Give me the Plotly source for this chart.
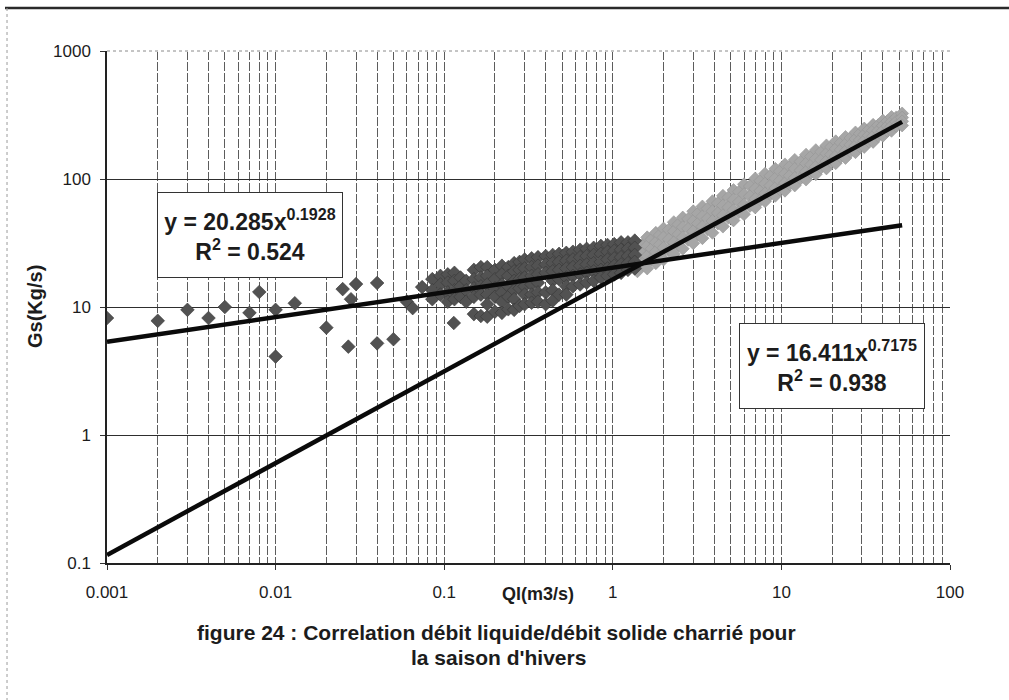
import plotly.graph_objects as go

# Scattered low-flow measurements, Ql (m3/s) and Gs (kg/s)
q_sparse = [0.001, 0.002, 0.003, 0.004, 0.005, 0.007, 0.008, 0.01, 0.01, 0.013,
            0.02, 0.025, 0.027, 0.028, 0.03, 0.04, 0.04, 0.05, 0.06, 0.065,
            0.074, 0.114]
gs_sparse = [8.2, 7.8, 9.5, 8.2, 10.0, 9.0, 13.1, 9.5, 4.1, 10.7,
             6.9, 13.8, 4.9, 11.5, 15.1, 15.4, 5.2, 5.6, 11.0, 9.8,
             14.3, 7.5]

# Dense cloud of winter measurements (Ql column -> Gs readings)
cloud_q = [0.085, 0.095, 0.105, 0.115, 0.125, 0.135, 0.15, 0.165, 0.18, 0.2,
           0.22, 0.24, 0.26, 0.28, 0.3, 0.33, 0.36, 0.4, 0.44, 0.48,
           0.53, 0.58, 0.64, 0.7, 0.77, 0.85, 0.93, 1.02, 1.12, 1.23, 1.35]
cloud_gs = [
    [16.5, 13.5, 11.5],
    [17.5, 15, 12.5],
    [18, 15.5, 13, 11],
    [18.5, 16, 13.5, 11.5],
    [17, 14.5, 12],
    [16, 13.5, 11],
    [19.5, 16.5, 14, 12, 8.8],
    [20.5, 17, 14.5, 12.5, 8.5],
    [20.5, 17.5, 15, 12.5, 10.5, 8.4],
    [19.5, 16.5, 14, 12, 9.2],
    [21, 18, 15, 13, 11, 9.0],
    [20.5, 17.5, 14.5, 12, 9.6],
    [22, 19, 16, 13.5, 11.5, 9.5],
    [22.5, 19.5, 16.5, 14, 10.2],
    [23.5, 20, 17, 14.5, 12.5, 10.5],
    [24, 20.5, 17.5, 15, 12.5, 10.8],
    [24.5, 21, 18, 15.5, 13, 11],
    [25, 21.5, 18.5, 13, 10.5],
    [25.5, 22, 19, 16, 13.5, 11.2],
    [26, 22.5, 19.5, 16.5, 12.5],
    [26.5, 23, 20, 17, 14.5, 12.5],
    [27, 23.5, 20.5, 17.5, 14.5],
    [28, 24.5, 21, 18, 15],
    [28.5, 25, 21.5, 18.5, 15.5],
    [29, 25.5, 22, 19, 16],
    [30, 26, 22.5, 19.5, 17],
    [30.5, 27, 23.5, 20, 17.5],
    [31, 27.5, 24, 21, 18],
    [32, 28, 24.5, 21.5, 18.5],
    [32, 28.5, 25, 22, 19.5],
    [33, 29, 25.5, 22.5, 20],
]

# High-flow measurements (lighter series)
flood_q = [1.4, 1.5, 1.6, 1.7, 1.8, 1.9, 2.0, 2.15, 2.3, 2.45,
           2.6, 2.8, 3.0, 3.2, 3.4, 3.65, 3.9, 4.2, 4.5, 4.85,
           5.2, 5.6, 6.0, 6.5, 7.0, 7.5, 8.0, 8.6, 9.2, 9.8,
           10.5, 11.2, 12, 13, 14, 15, 16, 17.2, 18.5, 19.7,
           21, 22.5, 24, 25.7, 27.5, 29.2, 31, 33, 35, 37.5,
           40, 42.5, 45, 48, 52]
flood_gs = [
    [31, 27, 23, 19],
    [30.8, 26.2, 21.8],
    [35, 30, 25, 20],
    [33.8, 28.5, 23.5],
    [38, 32, 27, 22],
    [36.5, 30.8, 25.4],
    [41, 35, 29, 23.5],
    [40.2, 33.8, 27.6],
    [46, 39, 32, 26],
    [44.2, 37, 30.4],
    [50, 42, 35, 28.5],
    [48.8, 40.8, 33.5],
    [56, 47, 39, 31.5],
    [53.8, 44.9, 36.9],
    [61, 51, 42.5, 34.5],
    [58.8, 49.1, 40.5],
    [67, 56, 47, 38],
    [64.8, 54.2, 44.9],
    [74, 62, 52, 42.5],
    [71.8, 60, 49.8],
    [82, 69, 57, 47.5],
    [79.5, 66.2, 55.1],
    [91, 76, 63, 53],
    [88, 73.2, 61.5],
    [101, 84, 70, 60],
    [96.8, 80.8, 68.5],
    [110, 92, 77, 67],
    [105.8, 88.8, 75.8],
    [120, 101, 85, 74],
    [115, 97, 83],
    [130, 110, 93, 81],
    [125, 106, 91],
    [141, 120, 102, 89],
    [137, 117, 101],
    [155, 132, 114, 99],
    [150, 129, 112],
    [168, 144, 125, 109],
    [163, 141, 123],
    [183, 158, 138, 121],
    [178, 155, 136],
    [197, 172, 151, 133],
    [192, 169, 149],
    [213, 187, 165, 146],
    [209, 185, 164],
    [231, 205, 182, 162],
    [226, 202, 180],
    [248, 222, 199, 178],
    [243, 219, 197],
    [265, 239, 216, 195],
    [263, 238, 217],
    [286, 261, 238, 218],
    [283, 259, 238],
    [305, 280, 258, 238],
    [303, 280, 260],
    [325, 302, 282, 262],
]

# Power-law fits  Gs = a * Ql^b
fit_low = {"a": 20.285, "b": 0.1928, "r2": 0.524}
fit_all = {"a": 16.411, "b": 0.7175, "r2": 0.938}
fit_q_range = [0.001, 52]

x_tickvals = [0.001, 0.01, 0.1, 1, 10, 100]
x_ticktext = ["0.001", "0.01", "0.1", "1", "10", "100"]
y_tickvals = [0.1, 1, 10, 100, 1000]
y_ticktext = ["0.1", "1", "10", "100", "1000"]

FONT = "Liberation Sans, Arial, sans-serif"
INK = "#1c1c1c"
GRID_V = "#5c5c5c"


def flatten(cols, vals):
    xs, ys = [], []
    for q, row in zip(cols, vals):
        for g in row:
            xs.append(q)
            ys.append(g)
    return xs, ys


cloud_x, cloud_y = flatten(cloud_q, cloud_gs)
flood_x, flood_y = flatten(flood_q, flood_gs)

fig = go.Figure()

fig.add_trace(go.Scatter(
    x=flood_x, y=flood_y, mode="markers",
    marker=dict(symbol="diamond", size=10, color="#a6a6a6",
                line=dict(color="#959595", width=0.6)),
    showlegend=False, hoverinfo="x+y",
))
fig.add_trace(go.Scatter(
    x=q_sparse + cloud_x, y=gs_sparse + cloud_y, mode="markers",
    marker=dict(symbol="diamond", size=10.5, color="#525252",
                line=dict(color="#383838", width=0.6)),
    showlegend=False, hoverinfo="x+y",
))

for fit in (fit_low, fit_all):
    fig.add_trace(go.Scatter(
        x=fit_q_range,
        y=[fit["a"] * q ** fit["b"] for q in fit_q_range],
        mode="lines", line=dict(color="#0a0a0a", width=4.5),
        showlegend=False, hoverinfo="skip",
    ))


def eq_text(fit):
    return (f"y = {fit['a']:.3f}x<sup>{fit['b']:.4f}</sup><br>"
            f"R<sup>2</sup> = {fit['r2']:.3f}")


box_style = dict(xref="paper", yref="paper", showarrow=False,
                 font=dict(family=FONT, size=23, color=INK),
                 bgcolor="white", bordercolor="#333333", borderwidth=1,
                 borderpad=6, width=172, height=72, align="center",
                 xanchor="center", yanchor="middle")

fig.add_annotation(text=f"<b>{eq_text(fit_low)}</b>", x=0.1696, y=0.6406, **box_style)
fig.add_annotation(text=f"<b>{eq_text(fit_all)}</b>", x=0.860, y=0.3838, **box_style)

# Axis titles and caption
fig.add_annotation(text="<b>Ql(m3/s)</b>", xref="paper", yref="paper",
                   x=0.5113, y=-0.0605, showarrow=False,
                   xanchor="center", yanchor="middle",
                   font=dict(family=FONT, size=18, color=INK))
fig.add_annotation(text="<b>Gs(Kg/s)</b>", xref="paper", yref="paper",
                   x=-0.0854, y=0.5, showarrow=False, textangle=-90,
                   xanchor="center", yanchor="middle",
                   font=dict(family=FONT, size=20, color=INK))
fig.add_annotation(text="<b>figure 24 : Correlation débit liquide/débit solide charrié pour</b>",
                   xref="paper", yref="paper", x=0.4626, y=-0.1348,
                   showarrow=False, xanchor="center", yanchor="middle",
                   font=dict(family=FONT, size=21, color=INK))
fig.add_annotation(text="<b>la saison d'hivers</b>",
                   xref="paper", yref="paper", x=0.4650, y=-0.1855,
                   showarrow=False, xanchor="center", yanchor="middle",
                   font=dict(family=FONT, size=21, color=INK))

# Page frame: heavy rule on top, faint dotted rule on the left
fig.add_shape(type="line", xref="paper", yref="paper",
              x0=-0.121, x1=1.07, y0=1.084, y1=1.084,
              line=dict(color="#2a2a2a", width=2.5))
fig.add_shape(type="line", xref="paper", yref="paper",
              x0=-0.1186, x1=-0.1186, y0=1.084, y1=-0.27,
              line=dict(color="#9a9a9a", width=1, dash="dot"))
# Dotted upper edge of the plotting area
fig.add_shape(type="line", xref="paper", yref="paper",
              x0=0, x1=1, y0=1, y1=1,
              line=dict(color="white", width=2))
fig.add_shape(type="line", xref="paper", yref="paper",
              x0=0, x1=1, y0=1, y1=1,
              line=dict(color="#8a8a8a", width=1, dash="dot"))

fig.update_xaxes(
    type="log", range=[-3, 2],
    tickmode="array", tickvals=x_tickvals, ticktext=x_ticktext,
    ticks="outside", ticklen=5, tickcolor="#333333",
    tickfont=dict(family=FONT, size=17, color=INK), ticklabelstandoff=8,
    showline=True, linecolor="#222222", linewidth=1.5,
    showgrid=True, gridcolor=GRID_V, gridwidth=1, griddash="9px,2px",
    minor=dict(dtick="D1", showgrid=True, gridcolor=GRID_V, gridwidth=1,
               griddash="9px,2px", ticks=""),
    zeroline=False,
)
fig.update_yaxes(
    type="log", range=[-1, 3],
    tickmode="array", tickvals=y_tickvals, ticktext=y_ticktext,
    ticks="outside", ticklen=5, tickcolor="#333333",
    tickfont=dict(family=FONT, size=17, color=INK), ticklabelstandoff=6,
    showline=True, linecolor="#222222", linewidth=1.5,
    showgrid=True, gridcolor="#2e2e2e", gridwidth=1,
    zeroline=False,
)

fig.update_layout(
    width=1009, height=700,
    margin=dict(l=107, r=59, t=51, b=137),
    paper_bgcolor="white", plot_bgcolor="white",
    font=dict(family=FONT, color=INK),
)

fig.write_html("out.html")
